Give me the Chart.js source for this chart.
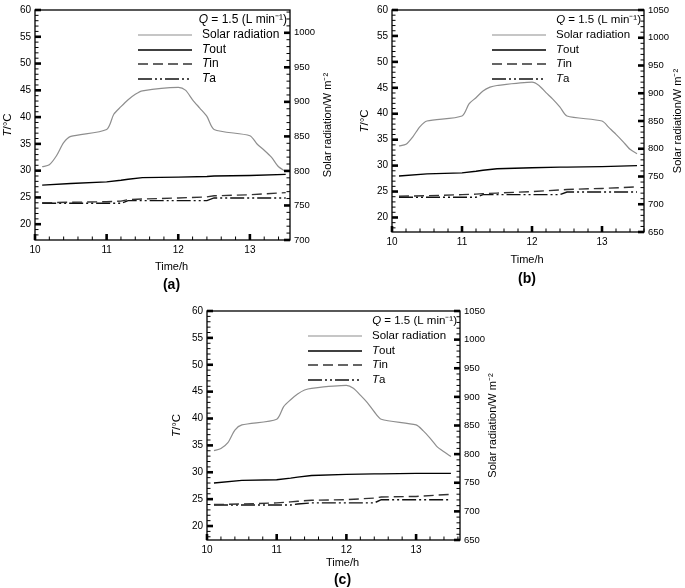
<!DOCTYPE html>
<html>
<head>
<meta charset="utf-8">
<script src="https://cdn.jsdelivr.net/npm/chart.js@4.4.0/dist/chart.umd.min.js"></script>
<style>
body { margin: 0; background: #fff; width: 685px; height: 588px; position: relative; overflow: hidden; }
canvas { position: absolute; }
</style>
</head>
<body>
<canvas id="chartA" width="345" height="300" style="left:0;top:0"></canvas>
<canvas id="chartB" width="340" height="300" style="left:345px;top:0"></canvas>
<canvas id="chartC" width="355" height="292" style="left:165px;top:296px"></canvas>
<script>
'use strict';

let fontFamily = '"Liberation Sans", Arial, Helvetica, sans-serif';

// time of day (h)
let solarTimes = [10.1, 10.2, 10.3, 10.4, 10.5, 11.0, 11.1, 11.2, 11.3, 11.4, 11.5, 12.0,
    12.1, 12.2, 12.3, 12.4, 12.5, 13.0, 13.1, 13.2, 13.3, 13.4, 13.5];
let tempTimes = [10.1, 10.5, 11.0, 11.2, 11.3, 11.5, 12.0, 12.4, 12.5, 13.0, 13.5];

// tick labels
let timeTicks = [10, 11, 12, 13];
let tempTicks = [20, 25, 30, 35, 40, 45, 50, 55, 60];
let solarTicksA = [700, 750, 800, 850, 900, 950, 1000];
let solarTicksBC = [650, 700, 750, 800, 850, 900, 950, 1000, 1050];

// panel (a)
let solarA = [806, 809, 822, 841, 850, 860, 882, 893, 903, 911, 916, 921, 917, 903, 891, 879, 860, 851, 839, 830, 820, 806, 799];
let toutA = [27.3, 27.6, 27.9, 28.2, 28.4, 28.7, 28.8, 28.9, 29.0, 29.1, 29.3];
let tinA = [24.0, 24.1, 24.2, 24.3, 24.6, 24.7, 24.9, 25.1, 25.3, 25.5, 25.9];
let taA = [23.9, 23.9, 23.9, 23.9, 24.4, 24.4, 24.4, 24.4, 24.9, 24.9, 24.9];

// panel (b)
let solarB = [805, 808, 822, 840, 850, 859, 881, 892, 904, 911, 914, 920, 914, 901, 889, 875, 859, 850, 838, 826, 813, 799, 791];
let toutB = [28.0, 28.4, 28.6, 28.9, 29.1, 29.4, 29.6, 29.7, 29.7, 29.8, 30.0];
let tinB = [24.1, 24.2, 24.4, 24.5, 24.6, 24.7, 25.0, 25.3, 25.4, 25.6, 25.9];
let taB = [23.9, 23.9, 23.9, 23.9, 24.4, 24.4, 24.4, 24.4, 24.9, 24.9, 24.9];

// panel (c)
let solarC = [806, 810, 820, 842, 851, 861, 883, 895, 905, 912, 915, 920, 915, 903, 890, 874, 861, 851, 841, 828, 813, 804, 796];
let toutC = [28.0, 28.5, 28.6, 28.9, 29.1, 29.4, 29.6, 29.7, 29.7, 29.8, 29.8];
let tinC = [24.0, 24.1, 24.3, 24.5, 24.6, 24.8, 24.9, 25.2, 25.4, 25.5, 25.9];
let taC = [23.9, 23.9, 23.9, 23.9, 24.1, 24.3, 24.3, 24.3, 24.9, 24.9, 24.9];

// legend names: [italic part, upright part]
let seriesNames = [['', 'Solar radiation'], ['T', 'out'], ['T', 'in'], ['T', 'a']];
let flowLabel = [['Q', true], [' = 1.5 (L min\u207B\u00B9)', false]];
let xTitle = 'Time/h';
let y2Title = 'Solar radiation/W m\u207B\u00B2';
let captions = ['(a)', '(b)', '(c)'];

function pairs(times, values) {
    return times.map(function (t, i) { return { x: t, y: values[i] }; });
}

function font(size, italic, bold) {
    return (italic ? 'italic ' : '') + (bold ? 'bold ' : '') + size + 'px ' + fontFamily;
}

// draw pieces of text, some italic, one after another
function drawParts(ctx, parts, x, y, size, align) {
    let total = 0;
    parts.forEach(function (p) {
        ctx.font = font(size, p[1]);
        total += ctx.measureText(p[0]).width;
    });
    let cx = align === 'right' ? x - total : (align === 'center' ? x - total / 2 : x);
    ctx.textAlign = 'left';
    ctx.textBaseline = 'middle';
    parts.forEach(function (p) {
        ctx.font = font(size, p[1]);
        ctx.fillText(p[0], cx, y);
        cx += ctx.measureText(p[0]).width;
    });
}

function drawAxisTicks(ctx, scale, side, a, major, minor) {
    let n0 = Math.ceil(scale.min / minor - 1e-6);
    let n1 = Math.floor(scale.max / minor + 1e-6);
    for (let n = n0; n <= n1; n++) {
        let v = n * minor;
        let isMajor = Math.abs(v / major - Math.round(v / major)) < 1e-6;
        let len = isMajor ? 6 : 3.5;
        ctx.lineWidth = isMajor ? 2.6 : 1;
        let p = scale.getPixelForValue(v);
        ctx.beginPath();
        if (side === 'bottom') {
            ctx.moveTo(p, a.bottom); ctx.lineTo(p, a.bottom - len);
        } else if (side === 'left') {
            ctx.moveTo(a.left, p); ctx.lineTo(a.left + len, p);
        } else {
            ctx.moveTo(a.right, p); ctx.lineTo(a.right - len, p);
        }
        ctx.stroke();
    }
}

let decorPlugin = {
    id: 'decor',
    afterDraw: function (chart) {
        let o = chart.options.plugins.decor;
        let ctx = chart.ctx;
        let a = chart.chartArea;
        ctx.save();
        ctx.strokeStyle = '#000';
        ctx.fillStyle = '#000';
        ctx.lineWidth = 1.3;
        ctx.strokeRect(a.left, a.top, a.right - a.left, a.bottom - a.top);
        drawAxisTicks(ctx, chart.scales.x, 'bottom', a, 1, 0.2);
        drawAxisTicks(ctx, chart.scales.y, 'left', a, 5, 1);
        drawAxisTicks(ctx, chart.scales.y2, 'right', a, 50, 10);

        // legend
        drawParts(ctx, flowLabel, a.right - 3, a.top + 10, o.legendSize, 'right');
        let rows = [25, 40, 54, 69];
        chart.data.datasets.forEach(function (ds, i) {
            let y = a.top + rows[i];
            ctx.save();
            ctx.strokeStyle = ds.borderColor;
            ctx.lineWidth = ds.borderWidth;
            ctx.setLineDash(ds.borderDash || []);
            ctx.beginPath();
            ctx.moveTo(a.right - 152, y);
            ctx.lineTo(a.right - 98, y);
            ctx.stroke();
            ctx.restore();
            drawParts(ctx, [[seriesNames[i][0], true], [seriesNames[i][1], false]], a.right - 88, y, o.legendSize, 'left');
        });

        // axis titles
        let midY = (a.top + a.bottom) / 2;
        let midX = (a.left + a.right) / 2 + 9;
        ctx.save();
        ctx.translate(a.left - o.leftTitle, midY);
        ctx.rotate(-Math.PI / 2);
        drawParts(ctx, [['T', true], ['/\u00B0C', false]], 0, 0, 11.5, 'center');
        ctx.restore();
        ctx.save();
        ctx.translate(a.right + o.rightTitle, midY);
        ctx.rotate(-Math.PI / 2);
        drawParts(ctx, [[y2Title, false]], 0, 0, 11, 'center');
        ctx.restore();
        drawParts(ctx, [[xTitle, false]], midX, a.bottom + o.xTitle, 11, 'center');
        ctx.font = font(14, false, true);
        ctx.textAlign = 'center';
        ctx.fillText(o.caption, midX, a.bottom + o.captionY);
        ctx.restore();
    }
};

function plainLabel(v) {
    return String(v);
}

function fixedTicks(values) {
    return function (s) {
        s.ticks = values.map(function (v) { return { value: v }; });
    };
}

function makeChart(id, solar, tout, tin, ta, solarTicks, L) {
    let tickFont = { family: fontFamily, size: 10 };
    let ctx = document.getElementById(id).getContext('2d');
    return new Chart(ctx, {
        type: 'line',
        data: {
            datasets: [{
                label: 'Solar radiation',
                data: pairs(solarTimes, solar),
                yAxisID: 'y2',
                borderColor: '#8e8e8e',
                borderWidth: 1.2,
                tension: 0.25
            }, {
                label: 'Tout',
                data: pairs(tempTimes, tout),
                yAxisID: 'y',
                borderColor: '#000',
                borderWidth: 1.4
            }, {
                label: 'Tin',
                data: pairs(tempTimes, tin),
                yAxisID: 'y',
                borderColor: '#333',
                borderWidth: 1.4,
                borderDash: [10, 5]
            }, {
                label: 'Ta',
                data: pairs(tempTimes, ta),
                yAxisID: 'y',
                borderColor: '#111',
                borderWidth: 1.4,
                borderDash: [14, 3, 2, 3, 2, 3]
            }]
        },
        options: {
            responsive: false,
            animation: false,
            devicePixelRatio: 1,
            layout: { padding: { top: L.top, left: 0, right: 0, bottom: 0 } },
            elements: { point: { radius: 0 } },
            plugins: {
                legend: { display: false },
                tooltip: { enabled: false },
                decor: L
            },
            scales: {
                x: {
                    type: 'linear',
                    min: 10,
                    max: L.xmax,
                    afterFit: function (s) { s.height = L.bottomH; },
                    afterBuildTicks: fixedTicks(timeTicks),
                    ticks: { padding: 4, color: '#000', font: tickFont, maxRotation: 0, autoSkip: false, callback: plainLabel },
                    grid: { display: false, drawTicks: false },
                    border: { display: false }
                },
                y: {
                    position: 'left',
                    min: L.ymin,
                    max: 60,
                    afterFit: function (s) { s.width = L.leftW; },
                    afterBuildTicks: fixedTicks(tempTicks),
                    ticks: { padding: 4, color: '#000', font: tickFont, autoSkip: false, callback: plainLabel },
                    grid: { display: false, drawTicks: false },
                    border: { display: false }
                },
                y2: {
                    position: 'right',
                    min: L.y2min,
                    max: L.y2max,
                    afterFit: function (s) { s.width = L.rightW; },
                    afterBuildTicks: fixedTicks(solarTicks),
                    ticks: { padding: 4, color: '#000', font: { family: fontFamily, size: 9.5 }, autoSkip: false, callback: plainLabel },
                    grid: { display: false, drawTicks: false },
                    border: { display: false }
                }
            }
        },
        plugins: [decorPlugin]
    });
}

makeChart('chartA', solarA, toutA, tinA, taA, solarTicksA, {
    top: 5, leftW: 35, rightW: 55, bottomH: 60, xmax: 13.56, ymin: 17.05, y2min: 700, y2max: 1033,
    leftTitle: 27, rightTitle: 38, xTitle: 27, captionY: 45, caption: captions[0], legendSize: 12
});
makeChart('chartB', solarB, toutB, tinB, taB, solarTicksBC, {
    top: 5, leftW: 47, rightW: 41, bottomH: 68, xmax: 13.6, ymin: 17.2, y2min: 650, y2max: 1050,
    leftTitle: 27, rightTitle: 34, xTitle: 28, captionY: 47, caption: captions[1], legendSize: 11.5
});
makeChart('chartC', solarC, toutC, tinC, taC, solarTicksBC, {
    top: 15, leftW: 42, rightW: 60, bottomH: 48, xmax: 13.63, ymin: 17.4, y2min: 650, y2max: 1050,
    leftTitle: 30, rightTitle: 33, xTitle: 23, captionY: 40, caption: captions[2], legendSize: 11.5
});
</script>
</body>
</html>
